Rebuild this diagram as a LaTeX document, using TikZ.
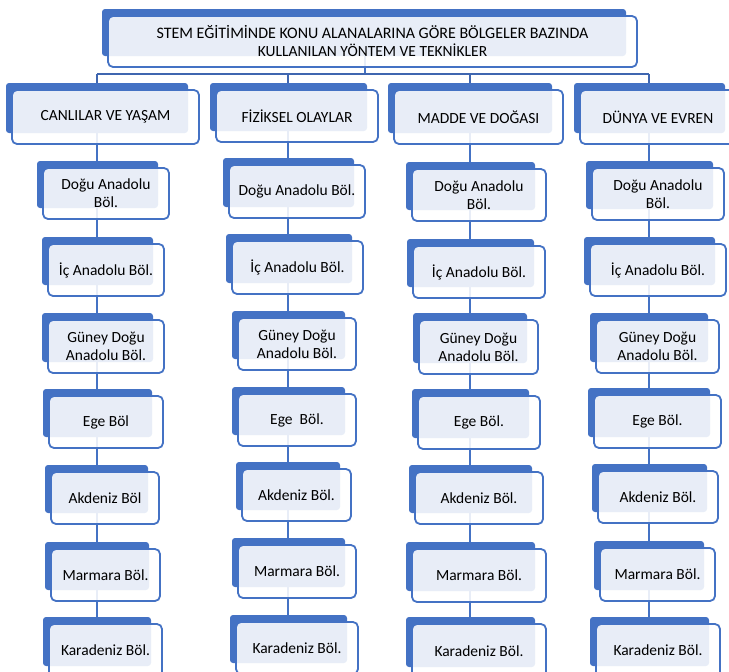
\documentclass[tikz,border=0pt]{standalone}
\usepackage{fontspec}
\setmainfont{Carlito}
\usepackage{xcolor}
\usepackage{tikz}

\definecolor{mavi}{HTML}{4472C4}
\definecolor{koyumavi}{HTML}{3F66B0}

\pgfdeclarelayer{arkaplan}
\pgfsetlayers{arkaplan,main}

% kutu: ad, sol, ust, genislik, yukseklik, metin
\newcommand{\kutu}[6]{%
  \node[arka, minimum width=#4pt, minimum height=#5pt] (#1a) at (#2,#3) {};
  \node[on, minimum width=#4pt+5pt, minimum height=#5pt+4pt] (#1) at (#2+6,#3+7) {#6};
}

\begin{document}
\begin{tikzpicture}[x=1pt, y=-1pt,
    arka/.style={anchor=north west, fill=mavi, rounded corners=3pt, inner sep=0pt, outer sep=0pt},
    on/.style={anchor=north west, draw=mavi, line width=1.8pt, fill=white, fill opacity=0.88,
      text opacity=1, rounded corners=5pt, align=center, inner sep=0pt, outer sep=0pt,
      font=\fontsize{15.5}{18}\selectfont},
    cizgi/.style={draw=mavi, line width=2.4pt},
    bar/.style={draw=koyumavi, line width=2.2pt}]
    \useasboundingbox (0,0) rectangle (729,672);
    \clip (0,0) rectangle (729,672);

    % sutun eksenleri
    \coordinate (s1) at (97,0);
    \coordinate (s2) at (288,0);
    \coordinate (s3) at (470,0);
    \coordinate (s4) at (649,0);
    \coordinate (orta) at (365,0);
    \coordinate (yatay) at (0,74);

    % baslik
    \kutu{baslik}{102}{9}{524}{47}{\fontsize{16}{17}\selectfont STEM EĞİTİMİNDE KONU ALANALARINA GÖRE BÖLGELER BAZINDA\\KULLANILAN YÖNTEM VE TEKNİKLER}

    % konu alanlari
    \kutu{k1-0}{6}{83}{182}{50}{CANLILAR VE YAŞAM}
    \kutu{k2-0}{210}{83}{157}{48}{FİZİKSEL OLAYLAR}
    \kutu{k3-0}{388}{83}{164}{50}{MADDE VE DOĞASI}
    \kutu{k4-0}{574}{83}{151}{50}{DÜNYA VE EVREN}

    % canlilar ve yasam
    \kutu{k1-1}{37}{161}{121}{47}{Doğu Anadolu\\Böl.}
    \kutu{k1-2}{42}{237}{111}{48}{İç Anadolu Böl.}
    \kutu{k1-3}{42}{313}{111}{49}{Güney Doğu\\Anadolu Böl.}
    \kutu{k1-4}{43}{389}{109}{48}{Ege Böl}
    \kutu{k1-5}{45}{465}{103}{48}{Akdeniz Böl}
    \kutu{k1-6}{45}{542}{104}{48}{Marmara Böl.}
    \kutu{k1-7}{43}{617}{108}{49}{Karadeniz Böl.}

    % fiziksel olaylar
    \kutu{k2-1}{223}{158}{131}{49}{Doğu Anadolu Böl.}
    \kutu{k2-2}{226}{234}{126}{49}{İç Anadolu Böl.}
    \kutu{k2-3}{232}{311}{113}{48}{Güney Doğu\\Anadolu Böl.}
    \kutu{k2-4}{232}{387}{113}{48}{Ege\ \ Böl.}
    \kutu{k2-5}{236}{462}{104}{48}{Akdeniz Böl.}
    \kutu{k2-6}{232}{538}{113}{49}{Marmara Böl.}
    \kutu{k2-7}{230}{615}{117}{48}{Karadeniz Böl.}

    % madde ve dogasi
    \kutu{k3-1}{406}{162}{129}{48}{Doğu Anadolu\\Böl.}
    \kutu{k3-2}{407}{239}{127}{48}{İç Anadolu Böl.}
    \kutu{k3-3}{413}{313}{114}{50}{Güney Doğu\\Anadolu Böl.}
    \kutu{k3-4}{412}{389}{117}{49}{Ege Böl.}
    \kutu{k3-5}{409}{465}{123}{48}{Akdeniz Böl.}
    \kutu{k3-6}{406}{542}{129}{49}{Marmara Böl.}
    \kutu{k3-7}{406}{617}{129}{50}{Karadeniz Böl.}

    % dunya ve evren
    \kutu{k4-1}{586}{161}{127}{48}{Doğu Anadolu\\Böl.}
    \kutu{k4-2}{584}{237}{131}{48}{İç Anadolu Böl.}
    \kutu{k4-3}{590}{313}{118}{49}{Güney Doğu\\Anadolu Böl.}
    \kutu{k4-4}{588}{388}{122}{49}{Ege Böl.}
    \kutu{k4-5}{592}{464}{115}{48}{Akdeniz Böl.}
    \kutu{k4-6}{594}{541}{110}{49}{Marmara Böl.}
    \kutu{k4-7}{590}{617}{119}{49}{Karadeniz Böl.}

    % baglantilar (kutularin arkasinda)
    \begin{pgfonlayer}{arkaplan}
        \draw[cizgi] (baslika.south -| orta) -- (orta |- yatay);
        \draw[bar] (s1 |- yatay) -- (s4 |- yatay);
        \foreach \sut in {1,...,4} {
            \draw[bar] (s\sut |- yatay) -- (s\sut |- k\sut-0a.north);
            \foreach \sat [evaluate=\sat as \son using int(\sat+1)] in {0,...,6}
                \draw[cizgi] (s\sut |- k\sut-\sat a.south) -- (s\sut |- k\sut-\son a.north);
        }
    \end{pgfonlayer}
\end{tikzpicture}
\end{document}
